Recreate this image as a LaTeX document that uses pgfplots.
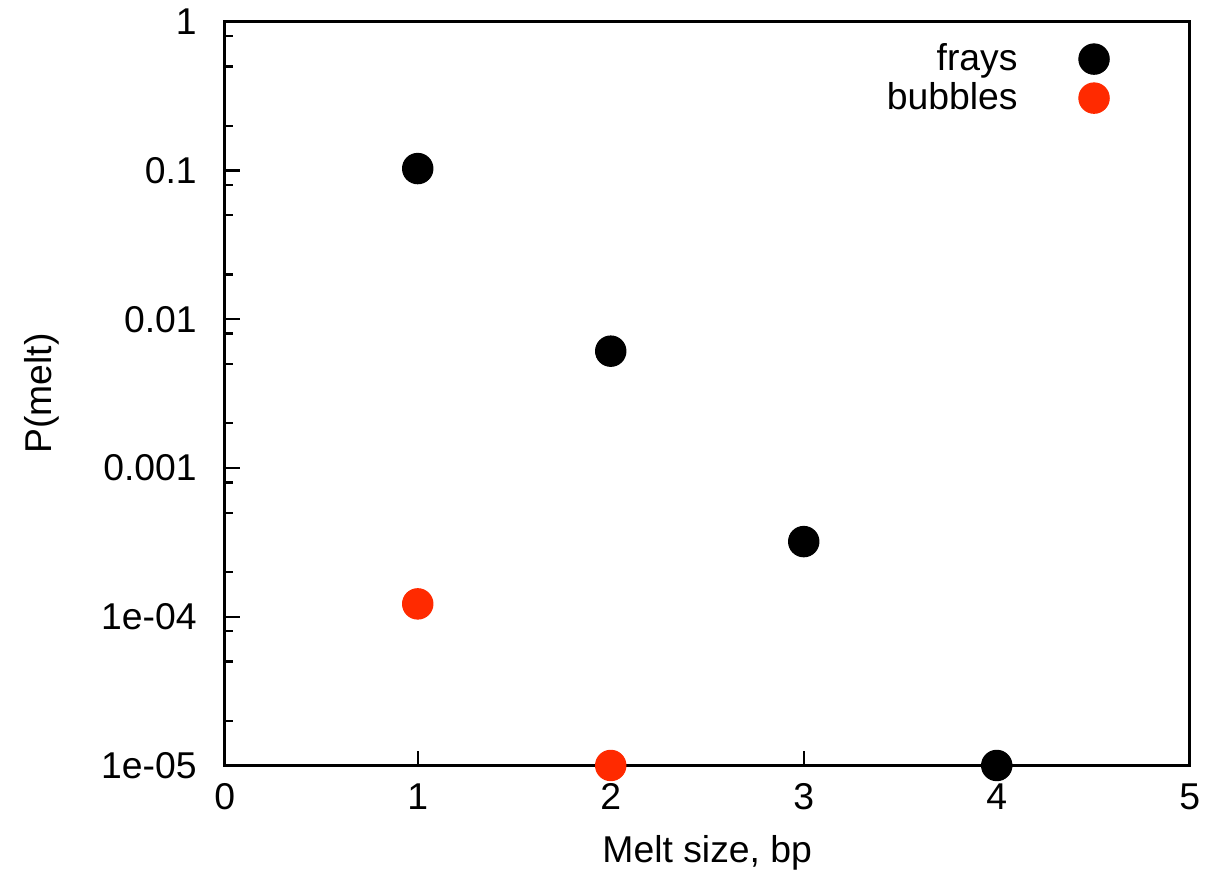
\documentclass[border=0pt]{standalone}
\usepackage{fontspec}
\setmainfont{Liberation Sans}
\usepackage{pgfplots}
\pgfplotsset{compat=1.18}
\definecolor{bubred}{HTML}{FF2A00}

\begin{document}
\begin{tikzpicture}
\begin{axis}[
  scale only axis, width=362pt, height=279pt,
  ymode=log, xmin=0, xmax=5, ymin=1e-5, ymax=1,
  xtick={0,1,2,3,4,5}, xticklabels={0,1,2,3,4,5},
  ytick={1e-5,1e-4,1e-3,1e-2,1e-1,1},
  yticklabels={1e-05,1e-04,0.001,0.01,0.1,1},
  minor ytick={2e-5,5e-5,8e-5,2e-4,5e-4,8e-4,2e-3,5e-3,8e-3,2e-2,5e-2,8e-2,0.2,0.5,0.8},
  xtick pos=bottom, ytick pos=left, tick align=inside,
  major tick length=5.6pt, minor tick length=3pt,
  axis line style={line width=1.1pt}, every tick/.style={black, line width=0.9pt},
  font=\fontsize{14}{16}\selectfont,
  tick label style={font=\fontsize{14}{16}\selectfont},
  yticklabel style={xshift=-7pt},
  xticklabel style={yshift=-3.3pt},
  xlabel={Melt size, bp}, ylabel={P(melt)},
  xlabel style={at={(axis description cs:0.5,-0.117)}, anchor=center},
  ylabel style={at={(axis description cs:-0.19,0.5)}, anchor=center, rotate=0,
    inner ysep=9pt},
  legend plot pos=right, legend cell align=right,
  legend style={draw=none, fill=none, at={(axis description cs:1,1)},
    anchor=north east, xshift=-27pt, yshift=-4pt, row sep=-1pt,
    /tikz/every odd column/.style={column sep=21pt},
    font=\fontsize{14}{16}\selectfont},
  clip=false,
]
\addplot[only marks, mark=*, mark size=5.7pt, black] coordinates
  {(1,0.103) (2,0.0061) (3,3.2e-4) (4,1e-5)};
\addlegendentry{frays}
\addplot[only marks, mark=*, mark size=5.7pt, color=bubred] coordinates
  {(1,1.22e-4) (2,1e-5)};
\addlegendentry{bubbles}
\end{axis}
\end{tikzpicture}
\end{document}
